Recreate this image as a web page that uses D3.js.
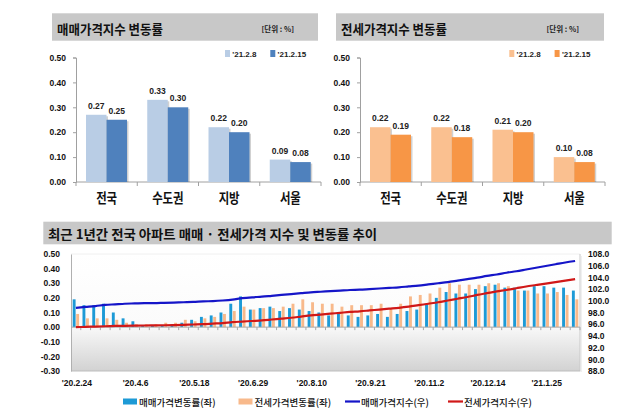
<!DOCTYPE html>
<html><head><meta charset="utf-8">
<script src="https://cdn.jsdelivr.net/npm/d3@7"></script>
<style>
html,body{margin:0;padding:0;background:#fff;}
svg{display:block;}
text{font-family:"Liberation Sans","Noto Sans CJK KR",Arial,sans-serif;}
.kr{font-family:"Noto Sans CJK KR","Noto Sans",sans-serif;}
</style></head><body>
<svg id="c" width="640" height="418"></svg>
<script>
// ---------- data ----------
const regions = ["전국","수도권","지방","서울"];
const weekLabels = ["'21.2.8","'21.2.15"];
const saleRate8  = [0.27,0.33,0.22,0.09];
const saleRate15 = [0.25,0.30,0.20,0.08];
const jeonseRate8  = [0.22,0.22,0.21,0.10];
const jeonseRate15 = [0.19,0.18,0.20,0.08];
const topTicks = [0,0.1,0.2,0.3,0.4,0.5];

const weeks = ["'20.2.24","'20.3.2","'20.3.9","'20.3.16","'20.3.23","'20.3.30","'20.4.6","'20.4.13","'20.4.20","'20.4.27",
"'20.5.4","'20.5.11","'20.5.18","'20.5.25","'20.6.1","'20.6.8","'20.6.15","'20.6.22","'20.6.29","'20.7.6",
"'20.7.13","'20.7.20","'20.7.27","'20.8.3","'20.8.10","'20.8.17","'20.8.24","'20.8.31","'20.9.7","'20.9.14",
"'20.9.21","'20.9.28","'20.10.5","'20.10.12","'20.10.19","'20.10.26","'20.11.2","'20.11.9","'20.11.16","'20.11.23",
"'20.11.30","'20.12.7","'20.12.14","'20.12.21","'20.12.28","'21.1.4","'21.1.11","'21.1.18","'21.1.25","'21.2.1",
"'21.2.8","'21.2.15"];
const shownWeeks = ["'20.2.24","'20.4.6","'20.5.18","'20.6.29","'20.8.10","'20.9.21","'20.11.2","'20.12.14","'21.1.25"];
const saleRate = [0.19,0.15,0.15,0.16,0.10,0.06,0.04,0.01,0.01,0.01,
0.02,0.03,0.05,0.07,0.08,0.10,0.16,0.21,0.12,0.13,
0.14,0.11,0.13,0.12,0.11,0.10,0.08,0.09,0.08,0.07,
0.08,0.09,0.07,0.09,0.11,0.12,0.16,0.20,0.24,0.23,
0.23,0.26,0.28,0.29,0.27,0.27,0.25,0.28,0.28,0.27,
0.27,0.25];
const jeonseRate = [0.09,0.06,0.06,0.06,0.05,0.03,0.02,0.02,0.02,0.03,
0.03,0.05,0.04,0.06,0.07,0.09,0.11,0.14,0.12,0.13,
0.13,0.14,0.16,0.19,0.17,0.16,0.16,0.14,0.15,0.15,
0.15,0.16,0.13,0.16,0.21,0.22,0.23,0.27,0.30,0.29,
0.29,0.29,0.30,0.30,0.28,0.25,0.25,0.23,0.23,0.24,
0.22,0.19];
const saleIndex = [98.8,98.95,99.1,99.3,99.4,99.5,99.55,99.6,99.6,99.65,
99.7,99.75,99.8,99.9,99.95,100.05,100.2,100.45,100.6,100.7,
100.85,101.0,101.15,101.3,101.45,101.55,101.65,101.75,101.85,101.9,
102.0,102.1,102.2,102.3,102.45,102.6,102.8,103.0,103.2,103.45,
103.7,103.95,104.25,104.5,104.8,105.05,105.35,105.65,105.95,106.25,
106.55,106.8];
const jeonseIndex = [95.5,95.55,95.6,95.65,95.7,95.72,95.75,95.78,95.8,95.82,
95.85,95.9,95.95,96.0,96.1,96.2,96.35,96.45,96.55,96.65,
96.8,96.95,97.1,97.3,97.5,97.65,97.8,97.95,98.1,98.2,
98.35,98.5,98.65,98.8,99.0,99.25,99.5,99.75,100.05,100.35,
100.65,101.0,101.3,101.6,101.85,102.15,102.45,102.7,102.95,103.2,
103.45,103.7];
const leftTicks = [-0.3,-0.2,-0.1,0,0.1,0.2,0.3,0.4,0.5];
const rightTicks = [88,90,92,94,96,98,100,102,104,106,108];

// ---------- drawing ----------
const svg = d3.select("#c");
const defs = svg.append("defs");
const g1 = defs.append("linearGradient").attr("id","plotbg").attr("x1",0).attr("y1",0).attr("x2",0).attr("y2",1);
g1.append("stop").attr("offset","0%").attr("stop-color","#ffffff");
g1.append("stop").attr("offset","60%").attr("stop-color","#fbfbfb");
g1.append("stop").attr("offset","100%").attr("stop-color","#d2d2d2");

function topPanel(o) {
  svg.append("rect").attr("x",o.bandX).attr("y",13.3).attr("width",o.bandW).attr("height",27.4).attr("fill","#c8c8c8");
  svg.append("text").attr("class","kr").attr("x",o.bandX+5).attr("y",33.5).attr("font-size",13).attr("font-weight",700)
    .attr("fill","#111").attr("textLength",106).attr("lengthAdjust","spacingAndGlyphs").text(o.title);
  svg.append("text").attr("class","kr").attr("x",o.unitX).attr("y",32).attr("font-size",7.5).attr("font-weight",700)
    .attr("fill","#222").text("[단위 : %]");

  const x = d3.scaleBand().domain(regions).range([o.axisX,o.axisX+245]);
  const y = d3.scaleLinear().domain([0,0.5]).range([182,57.5]);
  const xs = d3.scaleBand().domain([0,1]).range([0,41]);

  const ya = svg.append("g").attr("transform",`translate(${o.axisX},0)`)
    .call(d3.axisLeft(y).tickValues(topTicks).tickSize(3).tickPadding(7).tickFormat(d=>d.toFixed(2)));
  ya.select(".domain").attr("stroke","#a0a0a0");
  ya.selectAll(".tick line").attr("stroke","#a0a0a0");
  ya.selectAll("text").attr("font-size",8.5).attr("font-weight",700).attr("fill","#111");

  const xa = svg.append("g").attr("transform","translate(0,182)");
  xa.append("line").attr("x1",o.axisX).attr("x2",o.axisX+245).attr("stroke","#a0a0a0");
  xa.selectAll(".tk").data(regions.concat(["_end"])).join("line")
    .attr("x1",(d,i)=> i<regions.length ? x(d) : x(regions[regions.length-1])+x.bandwidth())
    .attr("x2",(d,i)=> i<regions.length ? x(d) : x(regions[regions.length-1])+x.bandwidth())
    .attr("y1",0).attr("y2",4).attr("stroke","#a0a0a0");

  const series = [o.v1,o.v2];
  series.forEach((vals,s)=>{
    const gg = svg.append("g");
    gg.selectAll("rect.sh").data(regions).join("rect")
      .attr("x",(d,i)=>x(d)+10+xs(s)+1.5).attr("y",(d,i)=>y(vals[i])+1.5)
      .attr("width",20.5).attr("height",(d,i)=>182-y(vals[i])-1.5).attr("fill","rgba(0,0,0,0.18)");
    gg.selectAll("rect.b").data(regions).join("rect")
      .attr("x",(d,i)=>x(d)+10+xs(s)).attr("y",(d,i)=>y(vals[i]))
      .attr("width",20.5).attr("height",(d,i)=>182-y(vals[i])).attr("fill",o.colors[s]);
    gg.selectAll("text").data(regions).join("text")
      .attr("x",(d,i)=>x(d)+10+xs(s)+10.25).attr("y",(d,i)=>y(vals[i])-6)
      .attr("text-anchor","middle").attr("font-size",8.5).attr("font-weight",700).attr("fill","#222")
      .text((d,i)=>vals[i].toFixed(2));
  });

  svg.append("g").selectAll("text").data(regions).join("text").attr("class","kr")
    .attr("x",d=>x(d)+x.bandwidth()/2).attr("y",203).attr("text-anchor","middle")
    .attr("font-size",13.5).attr("font-weight",700).attr("fill","#111")
    .attr("textLength",d=>d.length*10.5).attr("lengthAdjust","spacingAndGlyphs").text(d=>d);

  weekLabels.forEach((w,s)=>{
    const lx = o.legX + s*45.3;
    svg.append("rect").attr("x",lx).attr("y",50).attr("width",5).attr("height",7).attr("fill",o.colors[s]);
    svg.append("text").attr("x",lx+7.3).attr("y",57).attr("font-size",8).attr("font-weight",700).attr("fill","#222").text(w);
  });
}

topPanel({bandX:52,bandW:266,title:"매매가격지수 변동률",unitX:261.5,axisX:76,legX:225,
  v1:saleRate8,v2:saleRate15,colors:["#b9cde5","#4f81bd"]});
topPanel({bandX:336,bandW:268,title:"전세가격지수 변동률",unitX:546.5,axisX:360,legX:509.3,
  v1:jeonseRate8,v2:jeonseRate15,colors:["#fac090","#f79646"]});

// ---------- bottom chart ----------
svg.append("rect").attr("x",43.3).attr("y",221.7).attr("width",568.4).attr("height",22.6).attr("fill","#c8c8c8");
svg.append("text").attr("class","kr").attr("x",48).attr("y",238.5).attr("font-size",13).attr("font-weight",700)
  .attr("fill","#111").attr("textLength",329).attr("lengthAdjust","spacingAndGlyphs")
  .text("최근 1년간 전국 아파트 매매 · 전세가격 지수 및 변동률 추이");

const bx = d3.scaleBand().domain(weeks).range([71,580]);
const yL = d3.scaleLinear().domain([-0.3,0.5]).range([371,254]);
const yR = d3.scaleLinear().domain([88,108]).range([371,254]);
const bw = bx.bandwidth();

svg.append("rect").attr("x",71).attr("y",254).attr("width",509).attr("height",117).attr("fill","url(#plotbg)");
svg.append("line").attr("x1",71).attr("x2",580).attr("y1",254).attr("y2",254).attr("stroke","#f0f0f0");
svg.append("line").attr("x1",580).attr("x2",580).attr("y1",254).attr("y2",371).attr("stroke","#c8c8c8");
svg.append("line").attr("x1",581).attr("x2",581).attr("y1",256).attr("y2",372).attr("stroke","#e2e2e2");
svg.append("line").attr("x1",71).attr("x2",580).attr("y1",371).attr("y2",371).attr("stroke","#bdbdbd");

const la = svg.append("g").attr("transform","translate(71,0)")
  .call(d3.axisLeft(yL).tickValues(leftTicks).tickSize(0).tickPadding(11).tickFormat(d=>d.toFixed(2)));
la.select(".domain").attr("stroke","#b0b0b0");
la.selectAll("text").attr("font-size",8.5).attr("font-weight",700).attr("fill","#111");

const ra = svg.append("g").attr("transform","translate(580,0)")
  .call(d3.axisRight(yR).tickValues(rightTicks).tickSize(0).tickPadding(8).tickFormat(d=>d.toFixed(1)));
ra.select(".domain").remove();
ra.selectAll("text").attr("font-size",8.5).attr("font-weight",700).attr("fill","#111");

const y0 = yL(0);
svg.append("g").selectAll("rect").data(weeks).join("rect")
  .attr("x",d=>bx(d)+bw/2-3.2).attr("width",2.9)
  .attr("y",(d,i)=>yL(saleRate[i])).attr("height",(d,i)=>y0-yL(saleRate[i])).attr("fill","#1d9ad6");
svg.append("g").selectAll("rect").data(weeks).join("rect")
  .attr("x",d=>bx(d)+bw/2+0.3).attr("width",2.9)
  .attr("y",(d,i)=>yL(jeonseRate[i])).attr("height",(d,i)=>y0-yL(jeonseRate[i])).attr("fill","#f8b98b");

svg.append("line").attr("x1",71).attr("x2",580).attr("y1",y0).attr("y2",y0).attr("stroke","#a8a8a8");
svg.append("g").selectAll("line").data(weeks).join("line")
  .attr("x1",d=>bx(d)+bw).attr("x2",d=>bx(d)+bw).attr("y1",y0).attr("y2",y0+3).attr("stroke","#a8a8a8");

const lineR = d3.line().x((d,i)=>bx(weeks[i])+bw/2).y(d=>yR(d)).curve(d3.curveMonotoneX);
svg.append("path").attr("d",lineR(saleIndex)).attr("fill","none").attr("stroke","#1515c8").attr("stroke-width",2.2);
svg.append("path").attr("d",lineR(jeonseIndex)).attr("fill","none").attr("stroke","#d01818").attr("stroke-width",2.2);

svg.append("g").selectAll("text").data(shownWeeks).join("text")
  .attr("x",d=>bx(d)+bw/2+1).attr("y",386).attr("text-anchor","middle")
  .attr("font-size",8.5).attr("font-weight",700).attr("fill","#111").text(d=>d);

const leg = [
  {t:"매매가격변동률(좌)",type:"bar",c:"#1d9ad6",x:123},
  {t:"전세가격변동률(좌)",type:"bar",c:"#f8b98b",x:238.5},
  {t:"매매가격지수(우)",type:"line",c:"#1515c8",x:345},
  {t:"전세가격지수(우)",type:"line",c:"#d01818",x:448}
];
leg.forEach(l=>{
  if(l.type==="bar") svg.append("rect").attr("x",l.x).attr("y",398.5).attr("width",14).attr("height",6).attr("fill",l.c);
  else svg.append("line").attr("x1",l.x).attr("x2",l.x+15).attr("y1",401.5).attr("y2",401.5).attr("stroke",l.c).attr("stroke-width",2.2);
  svg.append("text").attr("class","kr").attr("x",l.x+16).attr("y",405.5).attr("font-size",9.5).attr("font-weight",500).attr("fill","#111").text(l.t);
});
</script>
</body></html>
